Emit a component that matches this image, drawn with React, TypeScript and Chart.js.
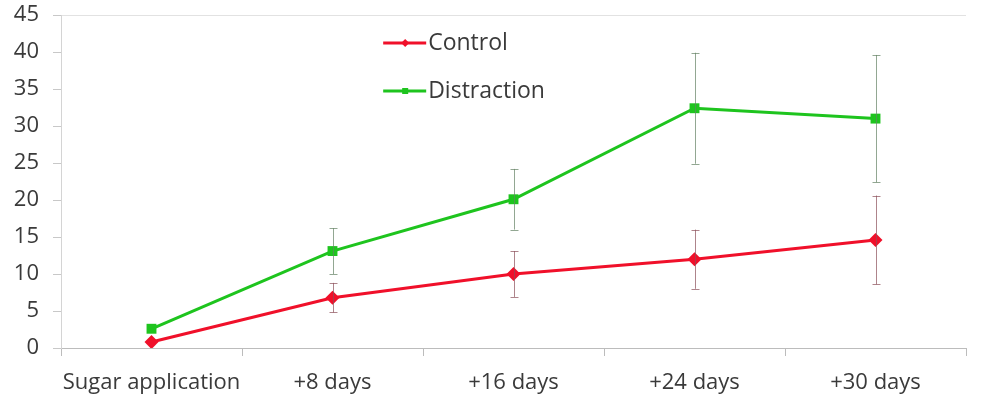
import React, { useEffect, useRef } from "react";
import { Chart, registerables } from "chart.js";

Chart.register(...registerables);

const categories = ["Sugar application", "+8 days", "+16 days", "+24 days", "+30 days"];
const controlValues = [0.8, 6.8, 10.0, 12.0, 14.6];
const controlErrors = [0, 2.0, 3.1, 4.0, 6.0];
const distractionValues = [2.6, 13.1, 20.1, 32.4, 31.0];
const distractionErrors = [0, 3.1, 4.1, 7.5, 8.6];
const seriesNames = ["Control", "Distraction"];
const yTicks = [0, 5, 10, 15, 20, 25, 30, 35, 40, 45];

const RED = "#f0102a";
const GREEN = "#1ec41e";
const FONT = "'Open Sans', 'Liberation Sans', sans-serif";
const TEXT = "#3a3a3a";

const errorBarPlugin = {
  id: "errorBars",
  afterDatasetsDraw(chart: any) {
    const { ctx } = chart;
    const y = chart.scales.y;
    chart.data.datasets.forEach((ds: any, i: number) => {
      const meta = chart.getDatasetMeta(i);
      const errs: number[] = ds.errors || [];
      ctx.save();
      ctx.strokeStyle = ds.errorColor;
      ctx.lineWidth = 1;
      meta.data.forEach((pt: any, j: number) => {
        const e = errs[j];
        if (!e) return;
        const v = ds.data[j];
        const top = y.getPixelForValue(v + e);
        const bot = y.getPixelForValue(v - e);
        const x = Math.round(pt.x) + 0.5;
        ctx.beginPath();
        ctx.moveTo(x, top);
        ctx.lineTo(x, bot);
        ctx.moveTo(x - 4, Math.round(top) + 0.5);
        ctx.lineTo(x + 4, Math.round(top) + 0.5);
        ctx.moveTo(x - 4, Math.round(bot) + 0.5);
        ctx.lineTo(x + 4, Math.round(bot) + 0.5);
        ctx.stroke();
      });
      ctx.restore();
    });
  },
};

const legendPlugin = {
  id: "innerLegend",
  afterDraw(chart: any) {
    const { ctx, chartArea } = chart;
    const w = chartArea.right - chartArea.left;
    const x0 = chartArea.left + w * 0.356;
    const rows = [chartArea.top + 28, chartArea.top + 76];
    chart.data.datasets.forEach((ds: any, i: number) => {
      const yy = rows[i];
      ctx.save();
      ctx.strokeStyle = ds.borderColor;
      ctx.lineWidth = 3;
      ctx.beginPath();
      ctx.moveTo(x0, yy);
      ctx.lineTo(x0 + 43, yy);
      ctx.stroke();
      ctx.fillStyle = ds.borderColor;
      const mx = x0 + 22;
      if (i === 0) {
        ctx.beginPath();
        ctx.moveTo(mx, yy - 4);
        ctx.lineTo(mx + 4, yy);
        ctx.lineTo(mx, yy + 4);
        ctx.lineTo(mx - 4, yy);
        ctx.closePath();
        ctx.fill();
      } else {
        ctx.fillRect(mx - 3, yy - 3, 6, 6);
      }
      ctx.fillStyle = TEXT;
      ctx.font = `23px ${FONT}`;
      ctx.textBaseline = "middle";
      ctx.textAlign = "left";
      ctx.fillText(ds.label, x0 + 45, yy);
      ctx.restore();
    });
  },
};

export default function App() {
  const ref = useRef<HTMLCanvasElement | null>(null);
  useEffect(() => {
    if (!ref.current) return;
    const chart = new Chart(ref.current, {
      type: "line",
      data: {
        labels: categories,
        datasets: [
          {
            label: seriesNames[0],
            data: controlValues,
            errors: controlErrors,
            errorColor: "rgba(140,80,90,0.7)",
            borderColor: RED,
            backgroundColor: RED,
            borderWidth: 3,
            pointStyle: "rectRot",
            pointRadius: 7,
            pointBorderWidth: 0,
            tension: 0,
          } as any,
          {
            label: seriesNames[1],
            data: distractionValues,
            errors: distractionErrors,
            errorColor: "rgba(100,130,100,0.7)",
            borderColor: GREEN,
            backgroundColor: GREEN,
            borderWidth: 3,
            pointStyle: "rect",
            pointRadius: 7,
            pointBorderWidth: 0,
            tension: 0,
          } as any,
        ],
      },
      options: {
        animation: false,
        responsive: false,
        maintainAspectRatio: false,
        layout: { padding: { top: 15, right: 18, left: 0, bottom: 0 } },
        plugins: { legend: { display: false }, tooltip: { enabled: false } },
        scales: {
          x: {
            offset: true,
            grid: {
              offset: true,
              drawOnChartArea: false,
              drawTicks: true,
              tickLength: 8,
              color: "#bcbcbc",
            },
            border: { display: true, color: "#bcbcbc" },
            ticks: { color: TEXT, font: { family: FONT, size: 22 }, padding: 14, maxRotation: 0 },
            afterFit(scale: any) {
              scale.height = 49;
            },
          },
          y: {
            min: 0,
            max: 45,
            afterBuildTicks(scale: any) {
              scale.ticks = yTicks.map((v) => ({ value: v }));
            },
            grid: {
              drawTicks: true,
              tickLength: 8,
              color: (c: any) => (c.tick && c.tick.value === 45 ? "#e2e2e2" : "rgba(0,0,0,0)"),
              tickColor: "#c8c8c8",
            },
            border: { display: true, color: "#d4d4d4" },
            ticks: { color: TEXT, font: { family: FONT, size: 22 }, padding: 14 },
            afterFit(scale: any) {
              scale.width = 61;
              scale.paddingTop = 0;
              scale.paddingBottom = 0;
            },
          },
        },
      } as any,
      plugins: [errorBarPlugin, legendPlugin],
    });
    return () => chart.destroy();
  }, []);
  return (
    <div style={{ position: "absolute", left: 0, top: 0, width: 984, height: 397, background: "#fff" }}>
      <canvas ref={ref} width={984} height={397} style={{ width: 984, height: 397, display: "block" }} />
    </div>
  );
}
